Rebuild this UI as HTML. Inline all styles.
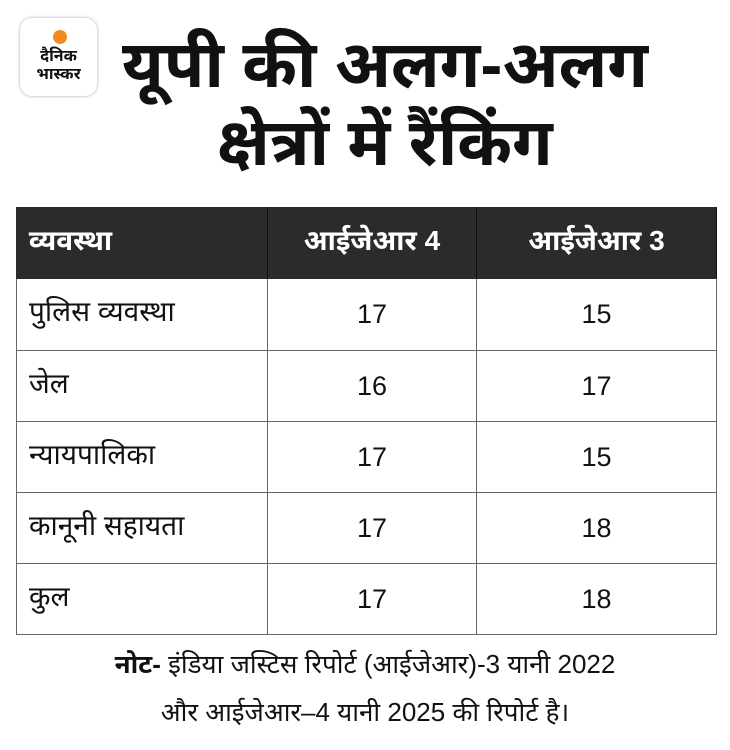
<!DOCTYPE html>
<html><head><meta charset="utf-8"><style>
body{margin:0;width:730px;height:750px;background:#fff;position:relative;overflow:hidden;font-family:"Liberation Sans","Noto Sans Devanagari","Lohit Devanagari",sans-serif;}
.logo{position:absolute;left:20px;top:18px;width:77px;height:78px;border-radius:12px;background:#fff;box-shadow:0 0 3px rgba(0,0,0,.35);}
.logo .sun{position:absolute;left:33px;top:12px;width:14px;height:14px;border-radius:50%;background:#f28c1e;}
.logo .t{position:absolute;left:0;width:77px;text-align:center;font-weight:bold;font-size:16px;line-height:18px;color:#111;}
.title{position:absolute;left:90px;width:590px;text-align:center;font-weight:bold;font-size:66px;line-height:76px;color:#111;}
table{position:absolute;left:16px;top:207px;border-collapse:collapse;width:701px;}
td,th{border:1.5px solid #666;font-size:27px;color:#111;height:70px;padding:0;}
th{background:#2b2b2b;color:#fff;border-color:#2b2b2b;border-right:1.5px solid #111;height:70px;font-weight:bold;font-size:28px;}
td:first-child,th:first-child{text-align:left;padding-left:12px;width:238px;}
td:first-child{font-size:28px;}
.c2{width:208px;text-align:center}.c3{text-align:center}
.note{position:absolute;left:0;width:730px;text-align:center;font-size:26px;color:#111;line-height:48px;top:640px;}
</style></head><body>
<div class="logo"><div class="sun"></div><div class="t" style="top:30px">दैनिक</div><div class="t" style="top:48px">भास्कर</div></div>
<div class="title" style="top:26px">यूपी की अलग-अलग</div>
<div class="title" style="top:104px">क्षेत्रों में  रैंकिंग</div>
<table>
<tr><th>व्यवस्था</th><th class="c2">आईजेआर 4</th><th class="c3">आईजेआर 3</th></tr>
<tr><td style="height:71px">पुलिस व्यवस्था</td><td class="c2">17</td><td class="c3">15</td></tr>
<tr><td style="height:70px">जेल</td><td class="c2">16</td><td class="c3">17</td></tr>
<tr><td style="height:70px">न्यायपालिका</td><td class="c2">17</td><td class="c3">15</td></tr>
<tr><td style="height:70px">कानूनी सहायता</td><td class="c2">17</td><td class="c3">18</td></tr>
<tr><td style="height:64px">कुल</td><td class="c2">17</td><td class="c3">18</td></tr>
</table>
<div class="note"><b>नोट-</b> इंडिया जस्टिस रिपोर्ट (आईजेआर)-3 यानी 2022<br>और आईजेआर–4 यानी 2025 की रिपोर्ट है।</div>
</body></html>
